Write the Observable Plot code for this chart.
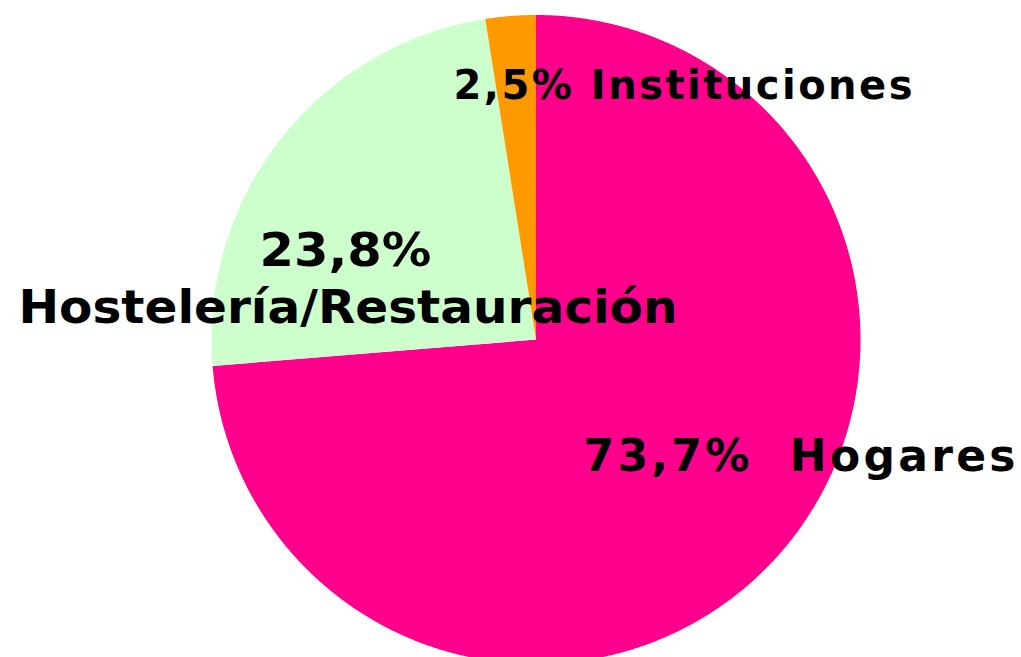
<!DOCTYPE html>
<html><head><meta charset="utf-8">
<script src="https://cdn.jsdelivr.net/npm/d3@7"></script>
<script src="https://cdn.jsdelivr.net/npm/@observablehq/plot@0.6"></script>
<style>html,body{margin:0;padding:0;background:#fff;overflow:hidden}</style>
</head><body><div id="chart"></div>
<script>
// Data
const categories = ["Hogares", "Hostelería/Restauración", "Instituciones"];
const values = [73.7, 23.8, 2.5];
const colors = ["#FF008C", "#CCFFCC", "#FF9900"];
const labelTop = ["73,7%  Hogares", "23,8%", "2,5% Instituciones"];
const labelBottom = ["", "Hostelería/Restauración", ""];

// Layout
const W = 1021, H = 657;
const cx = 535.5, cy = 339, R = 324.5;
const labelLayout = [
  {x: 799, y: 470, size: 44, len: 432, adj: "spacing"},
  {x: 345, y: 265, size: 47, len: 172, adj: "spacingAndGlyphs"},
  {x: 682.5, y: 98, size: 40, len: 459, adj: "spacing"},
  {x: 347.5, y: 322, size: 46, len: 659, adj: "spacingAndGlyphs"}
];

const pie = d3.pie().sort(null).value(d => d.value)(categories.map((c, i) => ({cat: c, value: values[i]})));
const pts = [];
for (const a of pie) {
  pts.push({cat: a.data.cat, x: cx, y: cy});
  const n = Math.max(2, Math.ceil((a.endAngle - a.startAngle) / (Math.PI / 720)));
  for (let k = 0; k <= n; k++) {
    const t = a.startAngle + (a.endAngle - a.startAngle) * k / n;
    pts.push({cat: a.data.cat, x: cx + R * Math.sin(t), y: cy - R * Math.cos(t)});
  }
}

const labels = [
  {t: labelTop[0], ...labelLayout[0]},
  {t: labelTop[1], ...labelLayout[1]},
  {t: labelTop[2], ...labelLayout[2]},
  {t: labelBottom[1], ...labelLayout[3]}
];

const chart = Plot.plot({
  width: W, height: H, margin: 0,
  x: {domain: [0, W], range: [0, W], axis: null},
  y: {domain: [0, H], range: [0, H], axis: null},
  color: {domain: categories, range: colors},
  style: {background: "#fff"},
  marks: [
    Plot.line(pts, {x: "x", y: "y", z: "cat", fill: "cat", stroke: null, curve: "linear-closed"}),
    Plot.text(labels, {x: "x", y: "y", text: "t", fill: "#000", fontSize: d => d.size, fontWeight: "bold",
      fontFamily: "DejaVu Sans", textAnchor: "middle", lineAnchor: "bottom"})
  ]
});
d3.select(chart).selectAll("text").each(function(_, i) {
  const L = labels[i];
  if (!L) return;
  d3.select(this).attr("font-size", L.size).attr("textLength", L.len).attr("lengthAdjust", L.adj);
});
document.getElementById("chart").appendChild(chart);
</script></body></html>
